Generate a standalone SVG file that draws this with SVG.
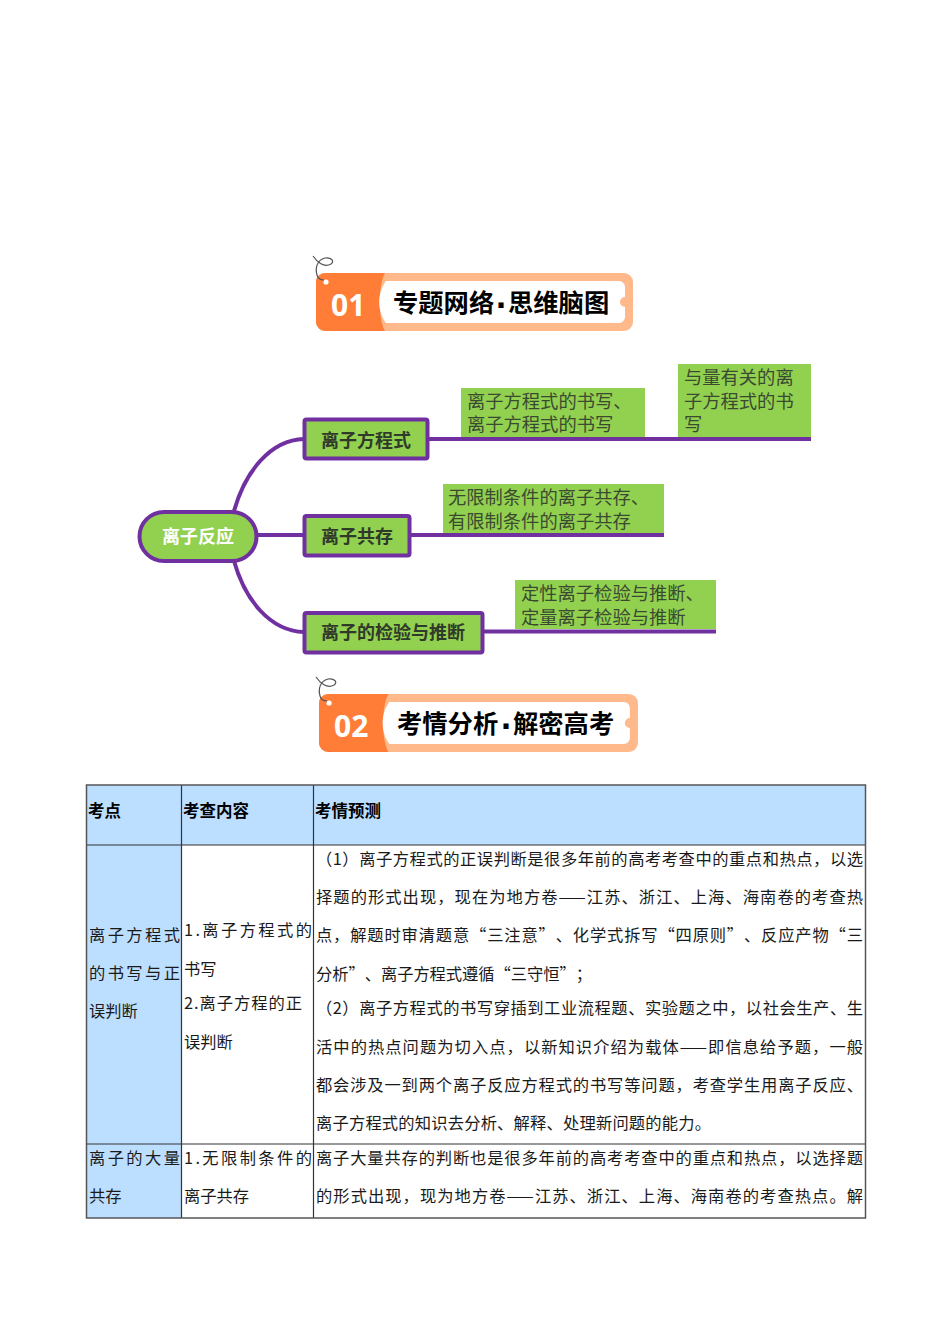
<svg xmlns="http://www.w3.org/2000/svg" width="950" height="1344" viewBox="0 0 950 1344">
<style>
text{font-family:"Noto Sans CJK SC","Liberation Sans",sans-serif;text-spacing-trim:space-all}
.conn{fill:none;stroke:#7030A0;stroke-width:4}
.box{fill:#92D050;stroke:#7030A0;stroke-width:4}
.leaf{fill:#92D050}
.nt{font-size:18px;font-weight:700;fill:#2f3a2a}
.lt{font-size:18.3px;fill:#3a4a30}
.bn{font-size:30px;font-weight:700;fill:#fff;font-family:"Open Sans","Liberation Sans",sans-serif}
.bt{font-size:25.3px;font-weight:700;fill:#000}
.dot{font-family:"Liberation Sans",sans-serif;font-size:36px}
.th{font-size:16.5px;font-weight:700;fill:#000}
.td{font-size:16.3px;fill:#1a1a1a}
.grid{stroke:#333;stroke-width:1.2;fill:none}
.outer{stroke:#555;stroke-width:1.5;fill:none}
</style>
<defs>
<g id="banner">
<rect x="0" y="0" width="317" height="58" rx="9" fill="#FFB98A"/>
<path d="M9 0H69C62 12 62 46 69 58H9A9 9 0 0 1 0 49V9A9 9 0 0 1 9 0Z" fill="#FF7D37"/>
<path d="M70 8H303A6 6 0 0 1 309 14V24A5 5 0 0 0 309 34V44A6 6 0 0 1 303 50H70C61 38 61 20 70 8Z" fill="#fff"/>
<circle cx="10" cy="9" r="2.6" fill="#fff"/>
<path d="M-3 -17C1 -11 8 -5 15 -9C19 -12 15 -16 9 -15C1 -13 -1 -5 1 2C2 6 5 7 8 7" fill="none" stroke="#555" stroke-width="1.2"/>
</g>
</defs>
<rect width="950" height="1344" fill="#fff"/>

<g id="banner-01">
<use href="#banner" x="316" y="273"/>
<text class="bn" x="331" y="316">01</text>
<text class="bt" y="312"><tspan x="393">专题网络</tspan><tspan class="dot" x="496" y="318">·</tspan><tspan x="508" y="312">思维脑图</tspan></text>
</g>

<g id="connectors">
<path class="conn" d="M234 511C245 472 270 440 304 439"/>
<path class="conn" d="M257 535H304"/>
<path class="conn" d="M234 561C245 600 270 631 304 632"/>
<path class="conn" d="M428 439H811"/>
<path class="conn" d="M410 535H664"/>
<path class="conn" d="M483 631.500H716"/>
</g>

<g id="node-root">
<rect class="box" x="139.500" y="512" width="117" height="49" rx="24.500"/>
<text class="nt" x="162" y="542.500" style="fill:#fff">离子反应</text>
</g>
<g id="node-equation">
<rect class="box" x="304.500" y="419.500" width="123" height="39" rx="2"/>
<text class="nt" x="321" y="446.500">离子方程式</text>
</g>
<g id="node-coexist">
<rect class="box" x="304.500" y="516" width="105" height="39.500" rx="2"/>
<text class="nt" x="321" y="543">离子共存</text>
</g>
<g id="node-test">
<rect class="box" x="304.500" y="613" width="178" height="39.500" rx="2"/>
<text class="nt" x="321" y="638.500">离子的检验与推断</text>
</g>

<g id="leaf-1">
<rect class="leaf" x="461" y="388" width="184" height="49"/>
<text class="lt" x="467" y="408">离子方程式的书写、</text>
<text class="lt" x="467" y="431">离子方程式的书写</text>
</g>
<g id="leaf-2">
<rect class="leaf" x="678" y="364" width="133" height="73"/>
<text class="lt" x="684" y="384">与量有关的离</text>
<text class="lt" x="684" y="408">子方程式的书</text>
<text class="lt" x="684" y="431">写</text>
</g>
<g id="leaf-3">
<rect class="leaf" x="443" y="484" width="221" height="49"/>
<text class="lt" x="448" y="504">无限制条件的离子共存、</text>
<text class="lt" x="448" y="528">有限制条件的离子共存</text>
</g>
<g id="leaf-4">
<rect class="leaf" x="515" y="580" width="201" height="49"/>
<text class="lt" x="521" y="600">定性离子检验与推断、</text>
<text class="lt" x="521" y="624">定量离子检验与推断</text>
</g>

<g id="banner-02">
<use href="#banner" x="319" y="694" transform="translate(-1.900 0) scale(1.006 1)"/>
<text class="bn" x="334" y="737">02</text>
<text class="bt" y="733"><tspan x="397">考情分析</tspan><tspan class="dot" x="501" y="739">·</tspan><tspan x="513" y="733">解密高考</tspan></text>
</g>

<g id="table">
<rect x="87" y="785" width="94.500" height="433" fill="#BDDFFF"/>
<rect x="181.500" y="785" width="684" height="60" fill="#BDDFFF"/>
<path class="grid" d="M181.500 785V1218M313.500 785V1218M87 845H865M87 1144H865"/>
<rect class="outer" x="86.500" y="785" width="779" height="433"/>

<text class="th" x="88" y="816.500">考点</text>
<text class="th" x="183" y="816.500">考查内容</text>
<text class="th" x="315" y="816.500">考情预测</text>

<text class="td" x="89" y="941" textLength="91" lengthAdjust="spacing">离子方程式</text>
<text class="td" x="89" y="979" textLength="91" lengthAdjust="spacing">的书写与正</text>
<text class="td" x="89" y="1017">误判断</text>
<text class="td" x="89" y="1164" textLength="91" lengthAdjust="spacing">离子的大量</text>
<text class="td" x="89" y="1202">共存</text>

<text class="td" x="184" y="936" textLength="128" lengthAdjust="spacing">1.离子方程式的</text>
<text class="td" x="184" y="975">书写</text>
<text class="td" x="184" y="1009" textLength="118" lengthAdjust="spacing">2.离子方程的正</text>
<text class="td" x="184" y="1048">误判断</text>
<text class="td" x="184" y="1164" textLength="128" lengthAdjust="spacing">1.无限制条件的</text>
<text class="td" x="184" y="1202">离子共存</text>

<text class="td" x="316" y="865" textLength="547" lengthAdjust="spacing">（1）离子方程式的正误判断是很多年前的高考考查中的重点和热点，以选</text>
<text class="td" x="316" y="903" textLength="547" lengthAdjust="spacing">择题的形式出现，现在为地方卷——江苏、浙江、上海、海南卷的考查热</text>
<text class="td" x="316" y="941" textLength="547" lengthAdjust="spacing">点，解题时审清题意“三注意”、化学式拆写“四原则”、反应产物“三</text>
<text class="td" x="316" y="980" textLength="276" lengthAdjust="spacing">分析”、离子方程式遵循“三守恒”；</text>
<text class="td" x="316" y="1014" textLength="547" lengthAdjust="spacing">（2）离子方程式的书写穿插到工业流程题、实验题之中，以社会生产、生</text>
<text class="td" x="316" y="1053" textLength="547" lengthAdjust="spacing">活中的热点问题为切入点，以新知识介绍为载体——即信息给予题，一般</text>
<text class="td" x="316" y="1091" textLength="547" lengthAdjust="spacing">都会涉及一到两个离子反应方程式的书写等问题，考查学生用离子反应、</text>
<text class="td" x="316" y="1129" textLength="395" lengthAdjust="spacing">离子方程式的知识去分析、解释、处理新问题的能力。</text>
<text class="td" x="316" y="1164" textLength="547" lengthAdjust="spacing">离子大量共存的判断也是很多年前的高考考查中的重点和热点，以选择题</text>
<text class="td" x="316" y="1202" textLength="547" lengthAdjust="spacing">的形式出现，现为地方卷——江苏、浙江、上海、海南卷的考查热点。解</text>
</g>
</svg>
